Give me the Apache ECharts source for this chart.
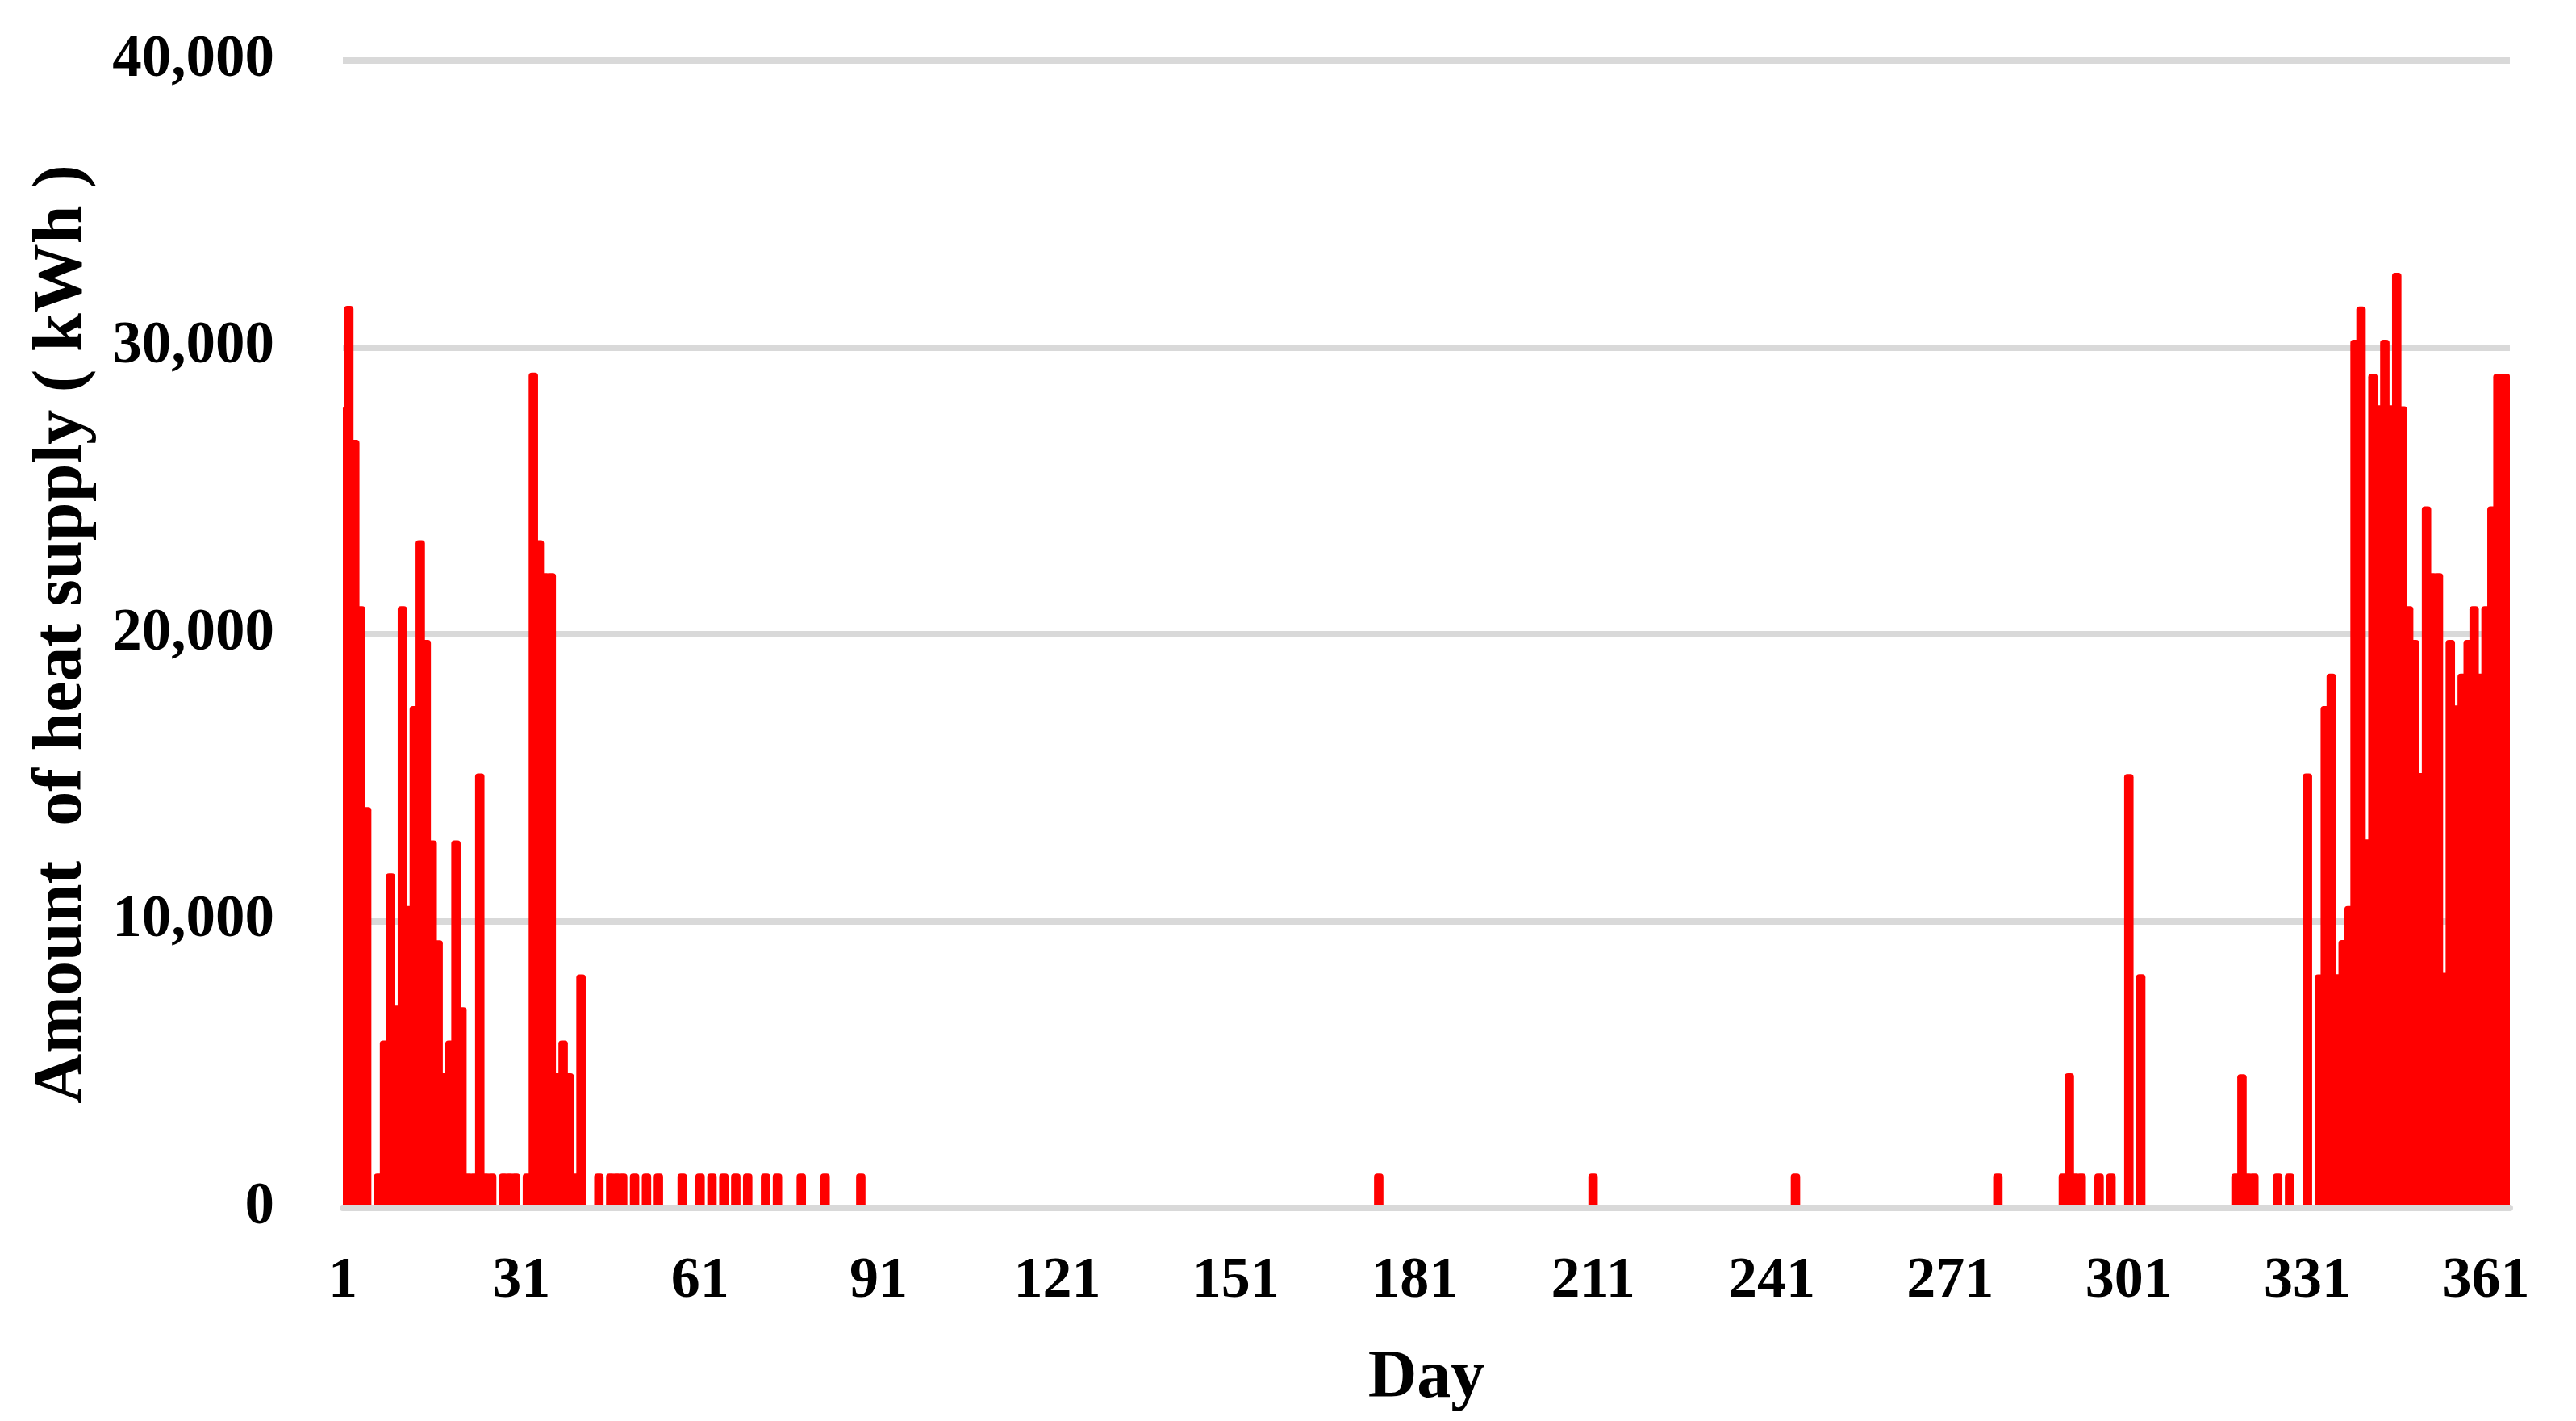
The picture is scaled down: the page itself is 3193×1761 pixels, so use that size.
<!DOCTYPE html>
<html>
<head>
<meta charset="utf-8">
<script src="https://cdn.jsdelivr.net/npm/echarts@6/dist/echarts.min.js"></script>
<style>
  html, body { margin: 0; padding: 0; background: #ffffff; }
  #chart { width: 3193px; height: 1761px; }
</style>
</head>
<body>
<div id="chart"></div>
<script>
// ---- Data (day, kWh) ----
const dayCount = 365;
const yTicks = [0, 10000, 20000, 30000, 40000];
const labelStep = 30; // labels at 1, 31, 61, ... 361

// January to mid-February
const heatWinterStart = [
  [1, 27950], [2, 31450], [3, 26780], [4, 20980], [5, 13970],
  [7, 1200], [8, 5840], [9, 11670], [10, 7050], [11, 20980],
  [12, 10530], [13, 17500], [14, 23280], [15, 19800], [16, 12810],
  [17, 9330], [18, 4700], [19, 5840], [20, 12810], [21, 7000],
  [22, 1200], [23, 1200], [24, 15150], [25, 1200], [26, 1200],
  [28, 1200], [29, 1200], [30, 1200], [32, 1200], [33, 29120],
  [34, 23280], [35, 22130], [36, 22130], [37, 4700], [38, 5840],
  [39, 4700], [40, 1200], [41, 8140], [44, 1200]
];
// Late winter / spring low days
const heatSpring = [
  [46, 1200], [47, 1200], [48, 1200], [50, 1200], [52, 1200],
  [54, 1200], [58, 1200], [61, 1200], [63, 1200], [65, 1200],
  [67, 1200], [69, 1200], [72, 1200], [74, 1200], [78, 1200],
  [82, 1200], [88, 1200]
];
// Summer / early autumn isolated days
const heatSummer = [[175, 1200], [211, 1200], [245, 1200], [279, 1200]];
// Autumn
const heatAutumn = [
  [290, 1200], [291, 4700], [292, 1200], [293, 1200], [296, 1200],
  [298, 1200], [301, 15130], [303, 8150],
  [319, 1200], [320, 4660], [321, 1200], [322, 1200], [326, 1200],
  [328, 1200]
];
// Winter end of year
const heatWinterEnd = [
  [331, 15150], [333, 8140], [334, 17500], [335, 18630], [336, 8150],
  [337, 9340], [338, 10530], [339, 30270], [340, 31430], [341, 12850],
  [342, 29080], [343, 27980], [344, 30270], [345, 27980], [346, 32600],
  [347, 27950], [348, 20980], [349, 19800], [350, 15160], [351, 24460],
  [352, 22130], [353, 22130], [354, 8200], [355, 19800], [356, 17520],
  [357, 18630], [358, 19800], [359, 20980], [360, 18630], [361, 20980],
  [362, 24460], [363, 29080], [364, 29080], [365, 29080]
];

// ---- Build category list and series data ----
const days = [];
for (let d = 1; d <= dayCount; d++) days.push(String(d));
const heatData = [];
[heatWinterStart, heatSpring, heatSummer, heatAutumn, heatWinterEnd].forEach(group => {
  group.forEach(([d, v]) => { heatData.push([d - 1, v]); });
});

const serif = '"Times New Roman", "Liberation Serif", serif';
const chart = echarts.init(document.getElementById('chart'), null, { renderer: 'canvas' });

// Columns are wider than one day (they overlap neighbours), as in the reference.
const columnWidthRatio = 1.58;

function renderColumn(params, api) {
  const idx = api.value(0);
  const top = api.coord([idx, api.value(1)]);
  const base = api.coord([idx, 0]);
  const band = api.size([1, 0])[0];
  const w = band * columnWidthRatio;
  const cs = params.coordSys;
  const rect = echarts.graphic.clipRectByRect(
    { x: top[0] - w / 2, y: top[1], width: w, height: base[1] - top[1] + 2 },
    { x: cs.x, y: cs.y - 10, width: cs.width, height: cs.height + 20 }
  );
  if (!rect) return null;
  return {
    type: 'rect',
    shape: { x: rect.x, y: rect.y, width: rect.width, height: rect.height, r: [4, 4, 0, 0] },
    style: { fill: '#ff0000' }
  };
}

chart.setOption({
  animation: false,
  backgroundColor: '#ffffff',
  grid: {
    left: 425, right: 82, top: 75, bottom: 264,
    containLabel: false,
    outerBoundsMode: 'none'
  },
  xAxis: {
    type: 'category',
    data: days,
    boundaryGap: false,
    z: 3,
    axisLine: { show: true, lineStyle: { color: '#d9d9d9', width: 8 } },
    axisTick: { show: false },
    splitLine: { show: false },
    axisLabel: {
      interval: (index) => index % labelStep === 0,
      margin: 55,
      color: '#000000',
      fontFamily: serif,
      fontWeight: 'bold',
      fontSize: 72,
      hideOverlap: false
    },
    name: 'Day',
    nameLocation: 'middle',
    nameGap: 170,
    nameTextStyle: {
      color: '#000000',
      fontFamily: serif,
      fontWeight: 'bold',
      fontSize: 84
    }
  },
  yAxis: {
    type: 'value',
    min: yTicks[0],
    max: yTicks[yTicks.length - 1],
    interval: yTicks[1] - yTicks[0],
    axisLine: { show: false },
    axisTick: { show: false },
    splitLine: { show: true, lineStyle: { color: '#d9d9d9', width: 8 } },
    axisLabel: {
      margin: 85,
      color: '#000000',
      fontFamily: serif,
      fontWeight: 'bold',
      fontSize: 73,
      formatter: v => v.toLocaleString('en-US')
    },
    name: 'Amount  of heat supply ( kWh )',
    nameLocation: 'middle',
    nameGap: 304,
    nameRotate: 90,
    nameTextStyle: {
      color: '#000000',
      fontFamily: serif,
      fontWeight: 'bold',
      fontSize: 86
    }
  },
  series: [{
    type: 'custom',
    renderItem: renderColumn,
    data: heatData,
    encode: { x: 0, y: 1 },
    z: 2,
    emphasis: { disabled: true }
  }]
});
</script>
</body>
</html>
